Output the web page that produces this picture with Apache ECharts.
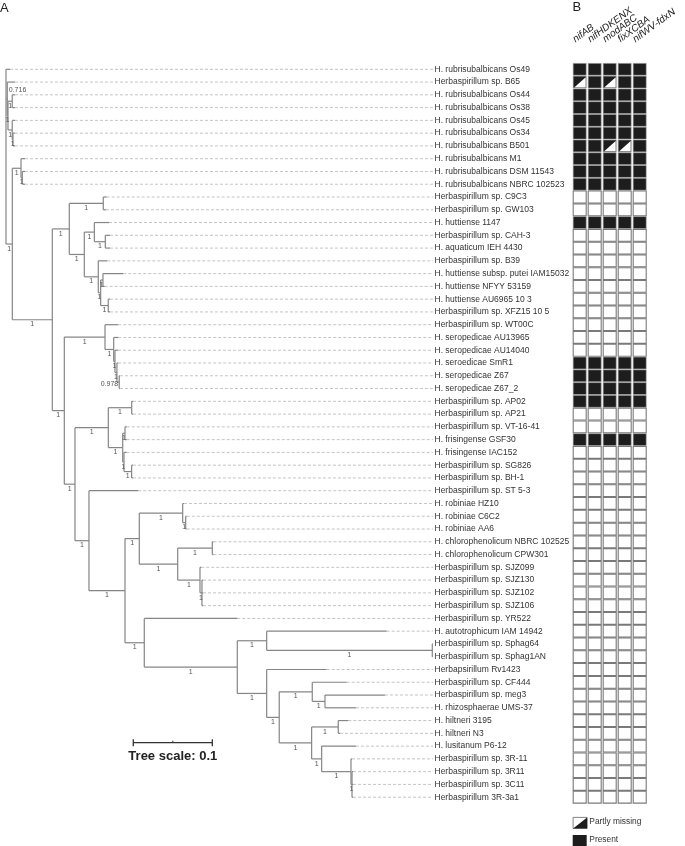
<!DOCTYPE html>
<html><head><meta charset="utf-8">
<script src="https://cdn.jsdelivr.net/npm/echarts@6/dist/echarts.min.js"></script>
<style>html,body{margin:0;padding:0;background:#fff}#c{width:685px;height:846px}</style>
</head><body><div id="c"></div>
<script>
// ---------------- DATA ----------------
const leaves = [
 'H. rubrisubalbicans Os49','Herbaspirillum sp. B65','H. rubrisubalbicans Os44','H. rubrisubalbicans Os38',
 'H. rubrisubalbicans Os45','H. rubrisubalbicans Os34','H. rubrisubalbicans B501','H. rubrisubalbicans M1',
 'H. rubrisubalbicans DSM 11543','H. rubrisubalbicans NBRC 102523','Herbaspirillum sp. C9C3','Herbaspirillum sp. GW103',
 'H. huttiense 1147','Herbaspirillum sp. CAH-3','H. aquaticum IEH 4430','Herbaspirillum sp. B39',
 'H. huttiense subsp. putei IAM15032','H. huttiense NFYY 53159','H. huttiense AU6965 10 3','Herbaspirillum sp. XFZ15 10 5',
 'Herbaspirillum sp. WT00C','H. seropedicae AU13965','H. seropedicae AU14040','H. seroedicae SmR1',
 'H. seropedicae Z67','H. seropedicae Z67_2','Herbaspirillum sp. AP02','Herbaspirillum sp. AP21',
 'Herbaspirillum sp. VT-16-41','H. frisingense GSF30','H. frisingense IAC152','Herbaspirillum sp. SG826',
 'Herbaspirillum sp. BH-1','Herbaspirillum sp. ST 5-3','H. robiniae HZ10','H. robiniae C6C2',
 'H. robiniae AA6','H. chlorophenolicum NBRC 102525','H. chlorophenolicum CPW301','Herbaspirillum sp. SJZ099',
 'Herbaspirillum sp. SJZ130','Herbaspirillum sp. SJZ102','Herbaspirillum sp. SJZ106','Herbaspirillum sp. YR522',
 'H. autotrophicum IAM 14942','Herbaspirillum sp. Sphag64','Herbaspirillum sp. Sphag1AN','Herbapsirillum Rv1423',
 'Herbaspirillum sp. CF444','Herbaspirillum sp. meg3','H. rhizosphaerae UMS-37','H. hiltneri 3195',
 'H. hiltneri N3','H. lusitanum P6-12','Herbaspirillum sp. 3R-11','Herbaspirillum sp. 3R11',
 'Herbaspirillum sp. 3C11','Herbaspirillum 3R-3a1'
];
// Newick tree: leaf names are indices into `leaves`, internal labels are support values
const newick =
 "(0:0.0051,(1:0.0097,((2:0.0034,3:0.0034)1:0.0054,(4:0.0034,(5:0.0025,6:0.0025)1:0.0009)1:0.0054)1:0.0009)0.716:0.0016," +
 "((7:0.0051,(8:0.0034,9:0.0034)1:0.0016)1:0.0110," +
 "(((10:0.0043,11:0.0034)1:0.0430,((12:0.0186,(13:0.0059,14:0.0059)1:0.0139)1:0.0127,(15:0.0114,((16:0.0257,17:0.0022)1:0.0029,(18:0.0022,19:0.0022)1:0.0096)1:0.0030)1:0.0177)1:0.0190)1:0.0215," +
 "((20:0.0168,(21:0.0058,(22:0.0038,(23:0.0016,(24:0.0009,25:0.0009)0.978:0.0029)1:0.0025)1:0.0016)1:0.0110)1:0.0515," +
 "(((26:0.0016,27:0.0016)1:0.0296,((28:0.0022,29:0.0022)1:0.0029,(30:0.0034,(31:0.0016,32:0.0016)1:0.0097)1:0.0016)1:0.0182)1:0.0422," +
 "(33:0.0624,(((34:0.0016,(35:0.0013,36:0.0013)1:0.0038)1:0.0549,((37:0.0015,38:0.0015)1:0.0438,(39:0.0016,(40:0.0013,41:0.0013,42:0.0013)1:0.0025)1:0.0282)1:0.0486)1:0.0181," +
 "(43:0.1177,((44:0.1519,(45:0.0009,46:0.0009)1:0.2096)1:0.0372,(47:0.0759,((48:0.0435,(49:0.0759,50:0.0392)1:0.0161)1:0.0418,((51:0.0127,52:0.0022)1:0.0337,(53:0.0434,(54:0.0013,(55:0.0013,56:0.0013,57:0.0013)1:0.0013)1:0.0371)1:0.0127)1:0.0410)1:0.0159)1:0.0372)1:0.1177)1:0.0244)1:0.0456)1:0.0177)1:0.0135)1:0.0152)1:0.0506)1:0.0080);";

const genes = ['nifAB','nifHDKENX','modABC','fixXCBA','nifWV-fdxN'];
// 1 = present, 0.5 = partly missing, 0 = absent (one value per leaf, same order as `leaves`)
const nifAB      = [1,0.5,1,1,1,1,1,1,1,1, 0,0,1,0,0,0,0,0,0,0, 0,0,0,1,1,1,1,0,0,1, 0,0,0,0,0,0,0,0,0,0, 0,0,0,0,0,0,0,0,0,0, 0,0,0,0,0,0,0,0];
const nifHDKENX  = [1,1,1,1,1,1,1,1,1,1, 0,0,1,0,0,0,0,0,0,0, 0,0,0,1,1,1,1,0,0,1, 0,0,0,0,0,0,0,0,0,0, 0,0,0,0,0,0,0,0,0,0, 0,0,0,0,0,0,0,0];
const modABC     = [1,0.5,1,1,1,1,0.5,1,1,1, 0,0,1,0,0,0,0,0,0,0, 0,0,0,1,1,1,1,0,0,1, 0,0,0,0,0,0,0,0,0,0, 0,0,0,0,0,0,0,0,0,0, 0,0,0,0,0,0,0,0];
const fixXCBA    = [1,1,1,1,1,1,0.5,1,1,1, 0,0,1,0,0,0,0,0,0,0, 0,0,0,1,1,1,1,0,0,1, 0,0,0,0,0,0,0,0,0,0, 0,0,0,0,0,0,0,0,0,0, 0,0,0,0,0,0,0,0];
const nifWVfdxN  = [1,1,1,1,1,1,1,1,1,1, 0,0,1,0,0,0,0,0,0,0, 0,0,0,1,1,1,1,0,0,1, 0,0,0,0,0,0,0,0,0,0, 0,0,0,0,0,0,0,0,0,0, 0,0,0,0,0,0,0,0];
const treeScale = 0.1;
const legendLabels = ['Partly missing','Present'];
const panelLabels = ['A','B'];

// ---------------- TREE LAYOUT ----------------
function parseNewick(s){
  let i = 0;
  function node(){
    const n = {children: []};
    if (s[i] === '('){
      i++; n.children.push(node());
      while (s[i] === ','){ i++; n.children.push(node()); }
      i++;
    }
    let name = '';
    while (i < s.length && !',():;'.includes(s[i])) name += s[i++];
    let len = 0;
    if (s[i] === ':'){ i++; let t=''; while (i < s.length && !',();'.includes(s[i])) t += s[i++]; len = parseFloat(t); }
    if (n.children.length) n.support = name; else n.leaf = parseInt(name, 10);
    n.len = len;
    return n;
  }
  return node();
}
const root = parseNewick(newick);
const solid = [], dashed = [], supports = [];
let maxDepth = 0;
(function place(n, x){
  n.x = x;
  if (!n.children.length){ n.y = n.leaf; maxDepth = Math.max(maxDepth, x); return; }
  n.children.forEach(c => place(c, x + c.len));
  n.y = (n.children[0].y + n.children[n.children.length-1].y) / 2;
})(root, 0);
(function walk(n, parent){
  if (parent){
    solid.push([parent.x, n.y, n.x, n.y]);
    if (n.support) supports.push({value:[(parent.x + n.x)/2, n.y, n.x, parent.x], text:n.support});
  }
  if (n.children.length){
    solid.push([n.x, n.children[0].y, n.x, n.children[n.children.length-1].y]);
    n.children.forEach(c => walk(c, n));
  } else if (n.x < maxDepth - 1e-6){
    dashed.push([n.x, n.y, maxDepth, n.y]);
  }
})(root, null);

// ---------------- CHART ----------------
const ROWH = 12.77;
const TOP = 69.3 - ROWH/2;
const HGT = ROWH * leaves.length;
const TREE_LEFT = 6, TREE_W = 427;
const FONT = 'Liberation Sans, Arial, Helvetica, sans-serif';

const cellData = [];
[nifAB, nifHDKENX, modABC, fixXCBA, nifWVfdxN].forEach((arr, g) => arr.forEach((v, r) => cellData.push([g, r, v])));

const segItem = (stroke, lw, dash) => (params, api) => {
  const a = api.coord([api.value(0), api.value(1)]);
  const b = api.coord([api.value(2), api.value(3)]);
  return {type:'line', shape:{x1:a[0], y1:a[1], x2:b[0], y2:b[1]},
          style:{stroke, lineWidth:lw, lineDash:dash || null}};
};

const chart = echarts.init(document.getElementById('c'));
chart.setOption({
  animation: false,
  backgroundColor: '#fff',
  grid: [
    {left: TREE_LEFT, top: TOP, width: TREE_W, height: HGT, containLabel:false, outerBoundsMode:'none'},
    {left: 572.2, top: TOP, width: 75, height: HGT, containLabel:false, outerBoundsMode:'none'}
  ],
  xAxis: [
    {type:'value', gridIndex:0, min:0, max:maxDepth, show:false},
    {type:'category', gridIndex:1, data:genes, show:false}
  ],
  yAxis: [
    {type:'value', gridIndex:0, min:-0.5, max:leaves.length-0.5, inverse:true, show:false},
    {type:'category', gridIndex:0, data:leaves, inverse:true, position:'right',
     axisLine:{show:false}, axisTick:{show:false}, splitLine:{show:false},
     axisLabel:{margin:1.5, fontSize:8.5, color:'#333', fontFamily:FONT, interval:0}},
    {type:'category', gridIndex:1, data:leaves, inverse:true, show:false}
  ],
  series: [
    {type:'custom', name:'dash', xAxisIndex:0, yAxisIndex:0, data:dashed, clip:false, silent:true,
     encode:{x:[0,2], y:[1,3]}, renderItem: segItem('#c4c4c4', 1, [3,2])},
    {type:'custom', name:'branches', xAxisIndex:0, yAxisIndex:0, data:solid, clip:false, silent:true,
     encode:{x:[0,2], y:[1,3]}, renderItem: segItem('#858585', 1.2)},
    {type:'custom', name:'support', xAxisIndex:0, yAxisIndex:0, data:supports, clip:false, silent:true,
     encode:{x:0, y:1},
     renderItem:(params, api) => {
       const t = supports[params.dataIndex].text;
       const p = api.coord([api.value(0), api.value(1)]);
       const nodeX = api.coord([api.value(2), 0])[0];
       let x = p[0], align = 'center', y = p[1] + 1.2;
       if (t.length > 1){
         const parX = api.coord([api.value(3), 0])[0];
         if (nodeX - parX < 25){
           if (t === '0.716'){ x = nodeX + 1.5; align = 'left'; y = p[1] - 12; }
           else { x = nodeX - 1; align = 'right'; y = p[1] - 2; }
         }
       }
       return {type:'text', x, y, style:{text:t, fill:'#555', fontSize:7, fontFamily:FONT, align, verticalAlign:'top'}};
     }},
    {type:'custom', name:'scale', xAxisIndex:0, yAxisIndex:0, data:[[0.1611, 52.73]], clip:false, silent:true,
     encode:{x:0, y:1},
     renderItem:(params, api) => {
       const a = api.coord([api.value(0), api.value(1)]);
       const b = api.coord([api.value(0) + treeScale, api.value(1)]);
       const m = (a[0] + b[0]) / 2;
       const st = {stroke:'#333', lineWidth:1.3};
       return {type:'group', children:[
         {type:'line', shape:{x1:a[0], y1:a[1], x2:b[0], y2:b[1]}, style:st},
         {type:'line', shape:{x1:a[0], y1:a[1]-3.5, x2:a[0], y2:a[1]+3.5}, style:st},
         {type:'line', shape:{x1:b[0], y1:b[1]-3.5, x2:b[0], y2:b[1]+3.5}, style:st},
         {type:'line', shape:{x1:m, y1:a[1]-2, x2:m, y2:a[1]}, style:{stroke:'#333', lineWidth:1}},
         {type:'text', x:m, y:a[1]+14, style:{text:'Tree scale: ' + treeScale, fill:'#222', fontSize:13,
          fontWeight:'bold', fontFamily:FONT, align:'center', verticalAlign:'middle'}}
       ]};
     }},
    {type:'custom', name:'cells', xAxisIndex:1, yAxisIndex:2, data:cellData, clip:false, silent:true,
     encode:{x:0, y:1},
     renderItem:(params, api) => {
       const st = api.value(2);
       const c = api.coord([api.value(0), api.value(1)]);
       const w = 13, h = ROWH - 0.9, x = c[0] - w/2, y = c[1] - h/2;
       if (st === 0) return {type:'rect', shape:{x, y, width:w, height:h},
                             style:{fill:'#fff', stroke:'#7a7a7a', lineWidth:1.1}};
       const ch = [{type:'rect', shape:{x, y, width:w, height:h}, style:{fill:'#1d1d1d', stroke:'#a0a0a0', lineWidth:0.6}}];
       if (st === 0.5) ch.push({type:'polygon', shape:{points:[[x+w-0.5, y+1], [x+w-0.5, y+h-0.5], [x+1, y+h-0.5]]}, style:{fill:'#fff'}});
       return {type:'group', children:ch};
     }},
    {type:'custom', name:'headers', xAxisIndex:1, yAxisIndex:2, data:genes.map((g,i)=>[i,0]), clip:false, silent:true,
     encode:{x:0, y:1},
     renderItem:(params, api) => {
       const c = api.coord([api.value(0), api.value(1)]);
       return {type:'text', x:c[0] - 3, y:c[1] - 25, rotation:36 * Math.PI / 180,
               style:{text:genes[params.dataIndex], fill:'#222', fontSize:10, fontStyle:'italic',
                      fontFamily:FONT, align:'left', verticalAlign:'bottom'}};
     }}
  ],
  graphic: [
    {type:'text', left:0, top:2, style:{text:panelLabels[0], fontSize:13, fill:'#222', fontFamily:FONT}},
    {type:'text', left:572.5, top:1, style:{text:panelLabels[1], fontSize:13, fill:'#222', fontFamily:FONT}},
    {type:'group', left:572.7, top:817, children:[
      {type:'rect', shape:{x:0, y:0, width:14, height:11}, style:{fill:'#fff', stroke:'#666', lineWidth:0.8}},
      {type:'polygon', shape:{points:[[0,11],[14,0],[14,11]]}, style:{fill:'#1d1d1d'}}
    ]},
    {type:'rect', left:572.7, top:835, shape:{width:14, height:11}, style:{fill:'#1d1d1d'}},
    {type:'text', left:589.3, top:817.5, style:{text:legendLabels[0], fontSize:8.4, fill:'#333', fontFamily:FONT}},
    {type:'text', left:589.3, top:835.5, style:{text:legendLabels[1], fontSize:8.4, fill:'#333', fontFamily:FONT}}
  ]
});
</script></body></html>
